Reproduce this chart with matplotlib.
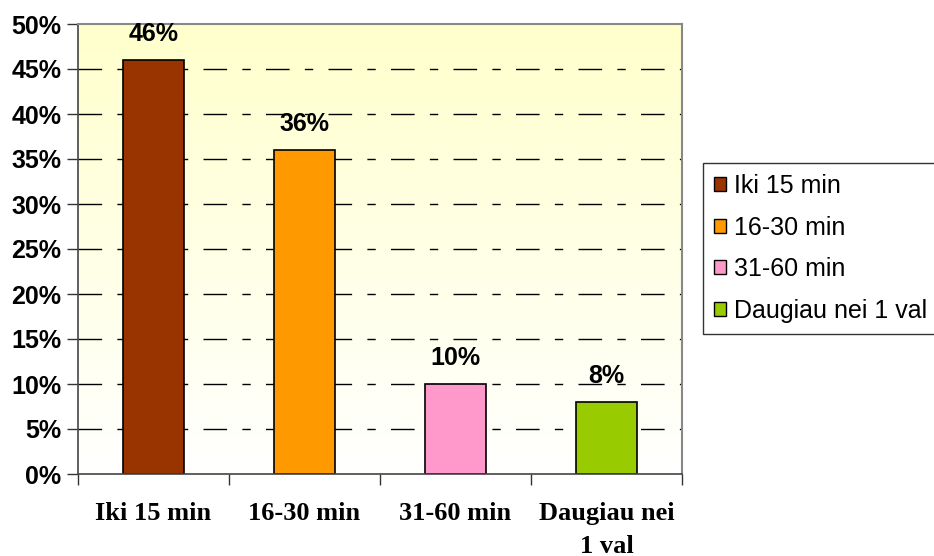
import matplotlib.pyplot as plt
import numpy as np
from matplotlib.ticker import FixedLocator, PercentFormatter
from matplotlib.patches import Patch

# travel time to work, share of respondents
categories = ["Iki 15 min", "16-30 min", "31-60 min", "Daugiau nei 1 val"]
tick_labels = ["Iki 15 min", "16-30 min", "31-60 min", "Daugiau nei\n1 val"]
shares = [46, 36, 10, 8]
colors = ["#993300", "#FF9900", "#FF99CC", "#99CC00"]

fig = plt.figure(figsize=(9.34, 5.56), dpi=100)
ax = fig.add_axes([78 / 934, 82 / 556, 604 / 934, 450 / 556])

x = np.arange(len(shares))
ax.set_xlim(-0.5, len(shares) - 0.5)
ax.set_ylim(0, 50)

# light yellow to white gradient behind the bars
grad = np.linspace(0, 1, 256).reshape(-1, 1)
top = np.array([1.0, 1.0, 0.80])
bottom = np.array([1.0, 1.0, 1.0])
img = bottom + (top - bottom) * grad
ax.imshow(img[:, None, :].repeat(2, axis=1), extent=(-0.5, len(shares) - 0.5, 0, 50),
          origin="lower", aspect="auto", zorder=0)

for y in range(5, 50, 5):
    ax.axhline(y, color="black", lw=1.0, dashes=(17, 11, 6, 11), zorder=1)

bars = ax.bar(x, shares, width=0.41, color=colors, edgecolor="black", lw=1.2, zorder=2)
for b, v in zip(bars, shares):
    ax.text(b.get_x() + b.get_width() / 2, v + 1.6, f"{v}%", ha="center", va="bottom",
            fontsize=18, fontweight="bold", family="Liberation Sans")

ax.yaxis.set_major_locator(FixedLocator(range(0, 51, 5)))
ax.yaxis.set_major_formatter(PercentFormatter(decimals=0))
ax.tick_params(axis="y", length=8, width=1, direction="out", pad=4, colors="#333333")
for t in ax.get_yticklabels():
    t.set_fontsize(18)
    t.set_fontweight("bold")
    t.set_family("Liberation Sans")
    t.set_color("black")

ax.set_xticks(np.arange(-0.5, len(shares), 1.0))
ax.set_xticklabels([])
ax.set_xticks(x, minor=True)
ax.set_xticklabels(tick_labels, minor=True, fontsize=19, fontweight="bold",
                   family="Liberation Serif", linespacing=1.55)
ax.tick_params(axis="x", which="major", length=8, width=1, colors="#333333")
ax.tick_params(axis="x", which="minor", length=0, pad=20)

for side in ["top", "right"]:
    ax.spines[side].set_color("#888888")
    ax.spines[side].set_linewidth(1.5)
for side in ["left", "bottom"]:
    ax.spines[side].set_color("#444444")
    ax.spines[side].set_linewidth(1.2)

handles = [Patch(facecolor=c, edgecolor="black", lw=1) for c in colors]
leg = fig.legend(handles, categories, loc="upper left", bbox_to_anchor=(703 / 934, 1 - 163 / 556),
                 frameon=True, fancybox=False, edgecolor="black",
                 prop={"family": "Liberation Sans", "size": 18},
                 handlelength=0.47, handleheight=0.47, handletextpad=0.3,
                 labelspacing=0.7, borderpad=0.45, borderaxespad=0)
leg.get_frame().set_linewidth(1)

fig.savefig("out.png", dpi=100, facecolor="white")
